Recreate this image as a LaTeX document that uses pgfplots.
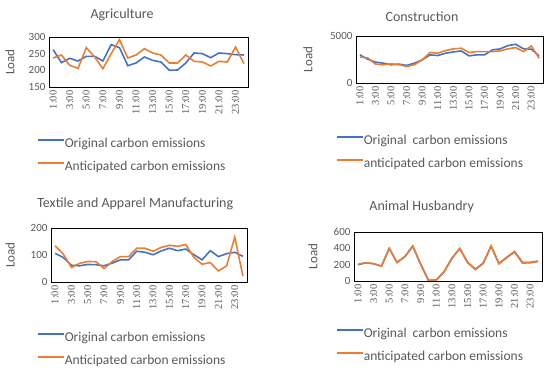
\documentclass[border=0pt]{standalone}
\usepackage{fontspec}
\setmainfont{Carlito}
\newfontfamily\tickserif{Liberation Serif}
\usepackage{pgfplots}
\usepackage{pgfplotstable}
\pgfplotsset{compat=1.18}
\definecolor{cblue}{HTML}{4472C4}
\definecolor{corange}{HTML}{ED7D31}
\definecolor{tgray}{HTML}{595959}

\pgfplotstableread{
x orig ant
0 262 237
1 223 246
2 236 215
3 228 206
4 242 268
5 242 240
6 228 205
7 277 250
8 268 292
9 214 237
10 222 246
11 240 265
12 230 252
13 225 246
14 200 222
15 201 222
16 222 246
17 252 227
18 250 225
19 238 213
20 252 227
21 250 225
22 247 270
23 246 220
}\agri

\pgfplotstableread{
x orig ant
0 2990 2750
1 2535 2680
2 2220 2010
3 2110 1940
4 1940 2040
5 2010 1940
6 1870 1760
7 2110 1940
8 2460 2460
9 2990 3240
10 2920 3170
11 3170 3450
12 3310 3630
13 3410 3700
14 2890 3240
15 2990 3340
16 2990 3340
17 3520 3340
18 3630 3410
19 3980 3630
20 4120 3770
21 3630 3340
22 3590 3940
23 2890 2640
}\constr

\pgfplotstableread{
x orig ant
0 106 134
1 91 104
2 62 54
3 60 69
4 65 76
5 64 75
6 60 50
7 70 76
8 82 94
9 82 94
10 114 125
11 110 125
12 101 114
13 115 128
14 125 136
15 116 132
16 122 139
17 101 91
18 82 66
19 116 72
20 94 41
21 105 60
22 110 166
23 95 22
}\textile

\pgfplotstableread{
x orig ant
0 199 205
1 223 225
2 211 212
3 182 180
4 397 400
5 228 225
6 298 300
7 426 430
8 207 210
9 8 5
10 12 10
11 112 115
12 277 280
13 397 400
14 228 225
15 145 140
16 219 215
17 426 430
18 215 210
19 290 285
20 360 355
21 228 220
22 228 222
23 244 240
}\animal

\pgfplotsset{
  panel/.style={
    scale only axis, anchor=south west,
    xmin=-0.5, xmax=23.5,
    xtick={0,2,...,22},
    xticklabels={1:00,3:00,5:00,7:00,9:00,11:00,13:00,15:00,17:00,19:00,21:00,23:00},
    x tick label style={rotate=90, anchor=east, font=\tickserif\fontsize{10.5}{10.5}\selectfont, text=tgray},
    y tick label style={font=\fontsize{11}{11}\selectfont, text=tgray},
    /pgf/number format/assume math mode=true,
    /pgf/number format/1000 sep={},
    tick style={draw=none},
    axis line style={black, line width=0.9pt},
    ylabel=Load,
    ylabel style={font=\fontsize{13}{13}\selectfont, text=tgray, anchor=center},
    title style={font=\fontsize{14}{14}\selectfont, text=tgray, anchor=center},
    legend cell align=left,
    legend style={draw=none, fill=none, inner sep=0pt, anchor=north west,
      font=\fontsize{13.5}{13.5}\selectfont, text=tgray,
      nodes={inner sep=0pt, text height=10pt, text depth=3pt},
      row sep=10pt},
    legend image code/.code={\draw[#1] (0pt,3.5pt) -- (26pt,3.5pt);},
  },
  orig/.style={color=cblue, line width=1.6pt, mark=none},
  ant/.style={color=corange, line width=1.6pt, mark=none},
}

\begin{document}
\begin{tikzpicture}
\path[use as bounding box] (0pt,0pt) rectangle (550pt,371pt);

% Agriculture
\begin{axis}[panel, at={(49pt,284pt)}, width=199pt, height=50pt,
  ymin=150, ymax=300, ytick={150,200,250,300},
  title={Agriculture},
  title style={at={(axis description cs:0.367,1)}, yshift=16pt},
  ylabel style={at={(axis description cs:-0.196,0.5)}},
  legend style={at={(axis description cs:0,0)}, xshift=-12pt, yshift=-50pt}]
\addplot[orig] table[x=x,y=orig]{\agri};
\addlegendentry{Original carbon emissions}
\addplot[ant] table[x=x,y=ant]{\agri};
\addlegendentry{Anticipated carbon emissions}
\end{axis}

% Construction
\begin{axis}[panel, at={(356pt,288pt)}, width=187pt, height=47pt,
  ymin=0, ymax=5000, ytick={0,5000},
  title={Construction},
  title style={at={(axis description cs:0.353,1)}, yshift=13pt},
  ylabel style={at={(axis description cs:-0.257,0.5)}},
  legend style={at={(axis description cs:0,0)}, xshift=-20pt, yshift=-51pt}]
\addplot[orig] table[x=x,y=orig]{\constr};
\addlegendentry{Original\ \ carbon emissions}
\addplot[ant] table[x=x,y=ant]{\constr};
\addlegendentry{anticipated carbon emissions}
\end{axis}

% Textile
\begin{axis}[panel, at={(51pt,89pt)}, width=196pt, height=54pt,
  ymin=0, ymax=200, ytick={0,100,200},
  title={Textile and Apparel Manufacturing},
  title style={at={(axis description cs:0.43,1)}, yshift=18pt},
  ylabel style={at={(axis description cs:-0.209,0.5)}},
  legend style={at={(axis description cs:0,0)}, xshift=-14pt, yshift=-49pt}]
\addplot[orig] table[x=x,y=orig]{\textile};
\addlegendentry{Original carbon emissions}
\addplot[ant] table[x=x,y=ant]{\textile};
\addlegendentry{Anticipated carbon emissions}
\end{axis}

% Animal Husbandry
\begin{axis}[panel, at={(354pt,90pt)}, width=188pt, height=49pt,
  ymin=0, ymax=600, ytick={0,200,400,600},
  title={Animal Husbandry},
  title style={at={(axis description cs:0.36,1)}, yshift=19pt},
  ylabel style={at={(axis description cs:-0.218,0.5)}},
  legend style={at={(axis description cs:0,0)}, xshift=-18pt, yshift=-46pt}]
\addplot[orig] table[x=x,y=orig]{\animal};
\addlegendentry{Original\ \ carbon emissions}
\addplot[ant] table[x=x,y=ant]{\animal};
\addlegendentry{anticipated carbon emissions}
\end{axis}
\end{tikzpicture}
\end{document}
